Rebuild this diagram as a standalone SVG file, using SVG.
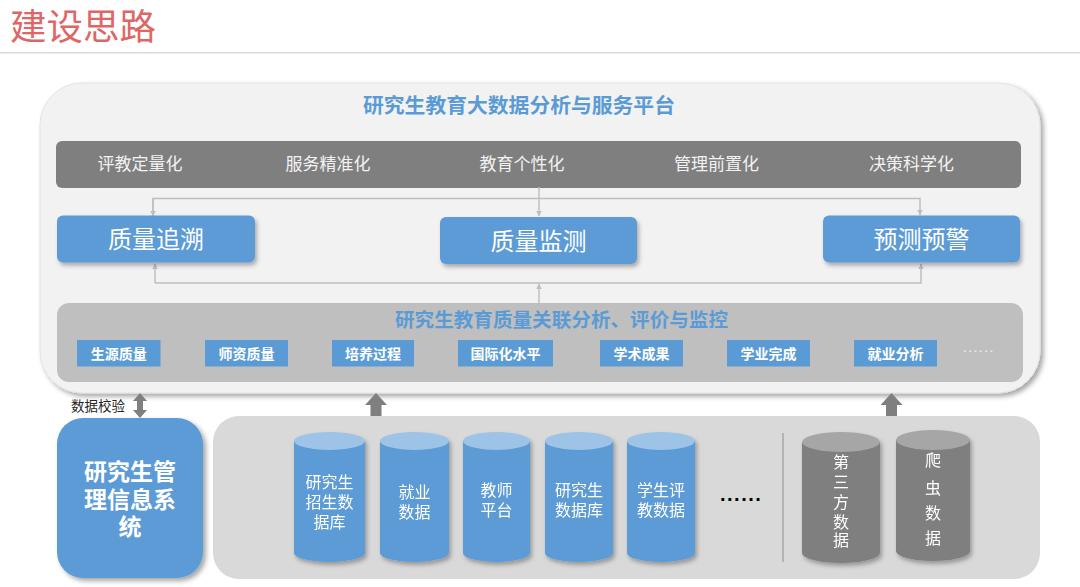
<svg xmlns="http://www.w3.org/2000/svg" width="1080" height="587" viewBox="0 0 1080 587">
<defs>
<filter id="sh" x="-10%" y="-10%" width="130%" height="140%">
<feDropShadow dx="2" dy="3" stdDeviation="2" flood-color="#000" flood-opacity="0.3"/>
</filter>
<filter id="shp" x="-5%" y="-5%" width="110%" height="115%">
<feDropShadow dx="3" dy="3" stdDeviation="2.5" flood-color="#000" flood-opacity="0.35"/>
</filter>
<marker id="ah" viewBox="0 0 10 10" refX="9" refY="5" markerWidth="6" markerHeight="6" orient="auto" markerUnits="userSpaceOnUse">
<path d="M0,0 L10,5 L0,10 Z" fill="#bfbfbf"/>
</marker>
<style>
.cjk{font-family:"Noto Sans CJK SC","Noto Sans",sans-serif;}
.ttl{font-size:20.8px;font-weight:bold;fill:#5b9bd5;text-anchor:middle;}
.bar{font-size:17px;fill:#f2f2f2;text-anchor:middle;}
.big{fill:#5b9bd5;}
.bigt{font-size:24px;fill:#ffffff;text-anchor:middle;}
.sm{fill:#5b9bd5;}
.smt{font-size:14px;font-weight:bold;fill:#ffffff;text-anchor:middle;}
.cyt{font-size:16px;fill:#ffffff;text-anchor:middle;}
.conn{stroke:#bfbfbf;stroke-width:1.5;fill:none;}
.blk{fill:#7f7f7f;}
.cb{fill:#5b9bd5;}
.ct{fill:#9dc3e6;}
.gb{fill:#7f7f7f;}
.gt{fill:#a6a6a6;}
</style>
</defs>
<rect width="1080" height="587" fill="#ffffff"/>
<g id="header">
<text class="cjk" x="10" y="40" font-size="36.5" fill="#e06666">建设思路</text>
<rect x="0" y="52" width="1080" height="1.5" fill="#d9d9d9"/>
</g>

<g id="platform">
<rect x="40" y="83" width="1000" height="310" rx="42" fill="#f2f2f2" stroke="#e3e3e3" stroke-width="1" filter="url(#shp)"/>
<text class="cjk ttl" x="519" y="113">研究生教育大数据分析与服务平台</text>
</g>

<g id="goals">
<rect x="56" y="141" width="965" height="47" rx="6" fill="#7f7f7f"/>
<text class="cjk bar" x="140" y="170">评教定量化</text>
<text class="cjk bar" x="328" y="170">服务精准化</text>
<text class="cjk bar" x="522" y="170">教育个性化</text>
<text class="cjk bar" x="716.5" y="170">管理前置化</text>
<text class="cjk bar" x="911.5" y="170">决策科学化</text>
</g>

<g id="connectors">
<path class="conn" d="M539,187 V216" marker-end="url(#ah)"/>
<path class="conn" d="M153,216 V198.5 H920 V215" marker-end="url(#ah)"/>
<path class="conn" d="M153,198.5 V216" marker-end="url(#ah)"/>
<path class="conn" d="M155,283 V264" marker-end="url(#ah)"/>
<path class="conn" d="M155,283 H921 V264" marker-end="url(#ah)"/>
<path class="conn" d="M539,303 V284" marker-end="url(#ah)"/>
</g>

<g id="trace">
<rect class="big" x="57" y="215.5" width="198" height="47" rx="6" filter="url(#sh)"/>
<text class="cjk bigt" x="156" y="248">质量追溯</text>
</g>
<g id="monitor">
<rect class="big" x="440" y="217" width="197" height="47" rx="6" filter="url(#sh)"/>
<text class="cjk bigt" x="538.5" y="249.5">质量监测</text>
</g>
<g id="warning">
<rect class="big" x="823" y="215.5" width="197" height="47" rx="6" filter="url(#sh)"/>
<text class="cjk bigt" x="921.5" y="248">预测预警</text>
</g>

<g id="analysis">
<rect x="57" y="303" width="966" height="79" rx="12" fill="#bfbfbf"/>
<text class="cjk ttl" x="561.5" y="327" style="font-size:19.6px">研究生教育质量关联分析、评价与监控</text>
<rect class="sm" x="77" y="340" width="83.5" height="26.5"/>
<text class="cjk smt" x="118.8" y="358.5">生源质量</text>
<rect class="sm" x="205" y="340" width="83" height="26.5"/>
<text class="cjk smt" x="246.5" y="358.5">师资质量</text>
<rect class="sm" x="332" y="340" width="82" height="26.5"/>
<text class="cjk smt" x="373" y="358.5">培养过程</text>
<rect class="sm" x="458" y="340" width="95" height="26.5"/>
<text class="cjk smt" x="505.5" y="358.5">国际化水平</text>
<rect class="sm" x="600" y="340" width="83" height="26.5"/>
<text class="cjk smt" x="641.5" y="358.5">学术成果</text>
<rect class="sm" x="727" y="340" width="83" height="26.5"/>
<text class="cjk smt" x="768.5" y="358.5">学业完成</text>
<rect class="sm" x="854" y="340" width="83" height="26.5"/>
<text class="cjk smt" x="895.5" y="358.5">就业分析</text>
<text x="963" y="352" font-family="Liberation Sans, sans-serif" font-size="14" letter-spacing="1.4" fill="#f2f2f2">......</text>
</g>

<g id="flow-arrows">
<path class="blk" d="M140,393 L147,401 L143,401 L143,410 L147,410 L140,418 L133,410 L137,410 L137,401 L133,401 Z"/>
<text class="cjk" x="71" y="410.5" font-size="13.5" fill="#262626">数据校验</text>
<path class="blk" d="M376,393 L387,405 L381.5,405 L381.5,418 L370.5,418 L370.5,405 L365,405 Z"/>
<path class="blk" d="M891.5,393 L902.5,405 L897,405 L897,418 L886,418 L886,405 L880.5,405 Z"/>
</g>

<g id="mis">
<rect x="57" y="418" width="146" height="160" rx="26" fill="#5b9bd5" filter="url(#shp)"/>
<text class="cjk" font-size="23" font-weight="bold" fill="#ffffff" text-anchor="middle"><tspan x="130" y="480">研究生管</tspan><tspan x="130" y="507.5">理信息系</tspan><tspan x="130" y="535">统</tspan></text>
</g>

<g id="sources">
<rect x="213" y="416" width="827" height="163" rx="26" fill="#d9d9d9"/>
<text x="720" y="501" font-family="Liberation Sans, sans-serif" font-size="20" font-weight="bold" letter-spacing="1.5" fill="#000000">......</text>
<line x1="783" y1="433" x2="783" y2="562" stroke="#a6a6a6" stroke-width="1.5"/>
</g>

<g id="db-enroll" filter="url(#sh)">
<path class="cb" d="M294,441 V553 A35.5,9 0 0 0 365,553 V441 Z"/>
<ellipse class="ct" cx="329.5" cy="441" rx="35.5" ry="9"/>
<text class="cjk cyt"><tspan x="329.5" y="488">研究生</tspan><tspan x="329.5" y="508">招生数</tspan><tspan x="329.5" y="528">据库</tspan></text>
</g>
<g id="db-employ" filter="url(#sh)">
<path class="cb" d="M380,441 V553 A34.5,9 0 0 0 449,553 V441 Z"/>
<ellipse class="ct" cx="414.5" cy="441" rx="34.5" ry="9"/>
<text class="cjk cyt"><tspan x="414.5" y="497.5">就业</tspan><tspan x="414.5" y="517.5">数据</tspan></text>
</g>
<g id="db-teacher" filter="url(#sh)">
<path class="cb" d="M463,441 V553 A33.5,9 0 0 0 530,553 V441 Z"/>
<ellipse class="ct" cx="496.5" cy="441" rx="33.5" ry="9"/>
<text class="cjk cyt"><tspan x="496.5" y="496">教师</tspan><tspan x="496.5" y="516">平台</tspan></text>
</g>
<g id="db-student" filter="url(#sh)">
<path class="cb" d="M545,441 V553 A34,9 0 0 0 613,553 V441 Z"/>
<ellipse class="ct" cx="579" cy="441" rx="34" ry="9"/>
<text class="cjk cyt"><tspan x="579" y="496">研究生</tspan><tspan x="579" y="516">数据库</tspan></text>
</g>
<g id="db-eval" filter="url(#sh)">
<path class="cb" d="M627,441 V553 A34,9 0 0 0 695,553 V441 Z"/>
<ellipse class="ct" cx="661" cy="441" rx="34" ry="9"/>
<text class="cjk cyt"><tspan x="661" y="496">学生评</tspan><tspan x="661" y="516">教数据</tspan></text>
</g>
<g id="db-third" filter="url(#sh)">
<path class="gb" d="M802,442 V553 A39,10 0 0 0 880,553 V442 Z"/>
<ellipse class="gt" cx="841" cy="442" rx="39" ry="10"/>
<text class="cjk cyt"><tspan x="841" y="467.5">第</tspan><tspan x="841" y="487.5">三</tspan><tspan x="841" y="507.5">方</tspan><tspan x="841" y="527.5">数</tspan><tspan x="841" y="546">据</tspan></text>
</g>
<g id="db-crawler" filter="url(#sh)">
<path class="gb" d="M896,440 V551 A37,10 0 0 0 970,551 V440 Z"/>
<ellipse class="gt" cx="933" cy="440" rx="37" ry="10"/>
<text class="cjk cyt"><tspan x="933" y="466">爬</tspan><tspan x="933" y="494">虫</tspan><tspan x="933" y="519">数</tspan><tspan x="933" y="544">据</tspan></text>
</g>
</svg>
